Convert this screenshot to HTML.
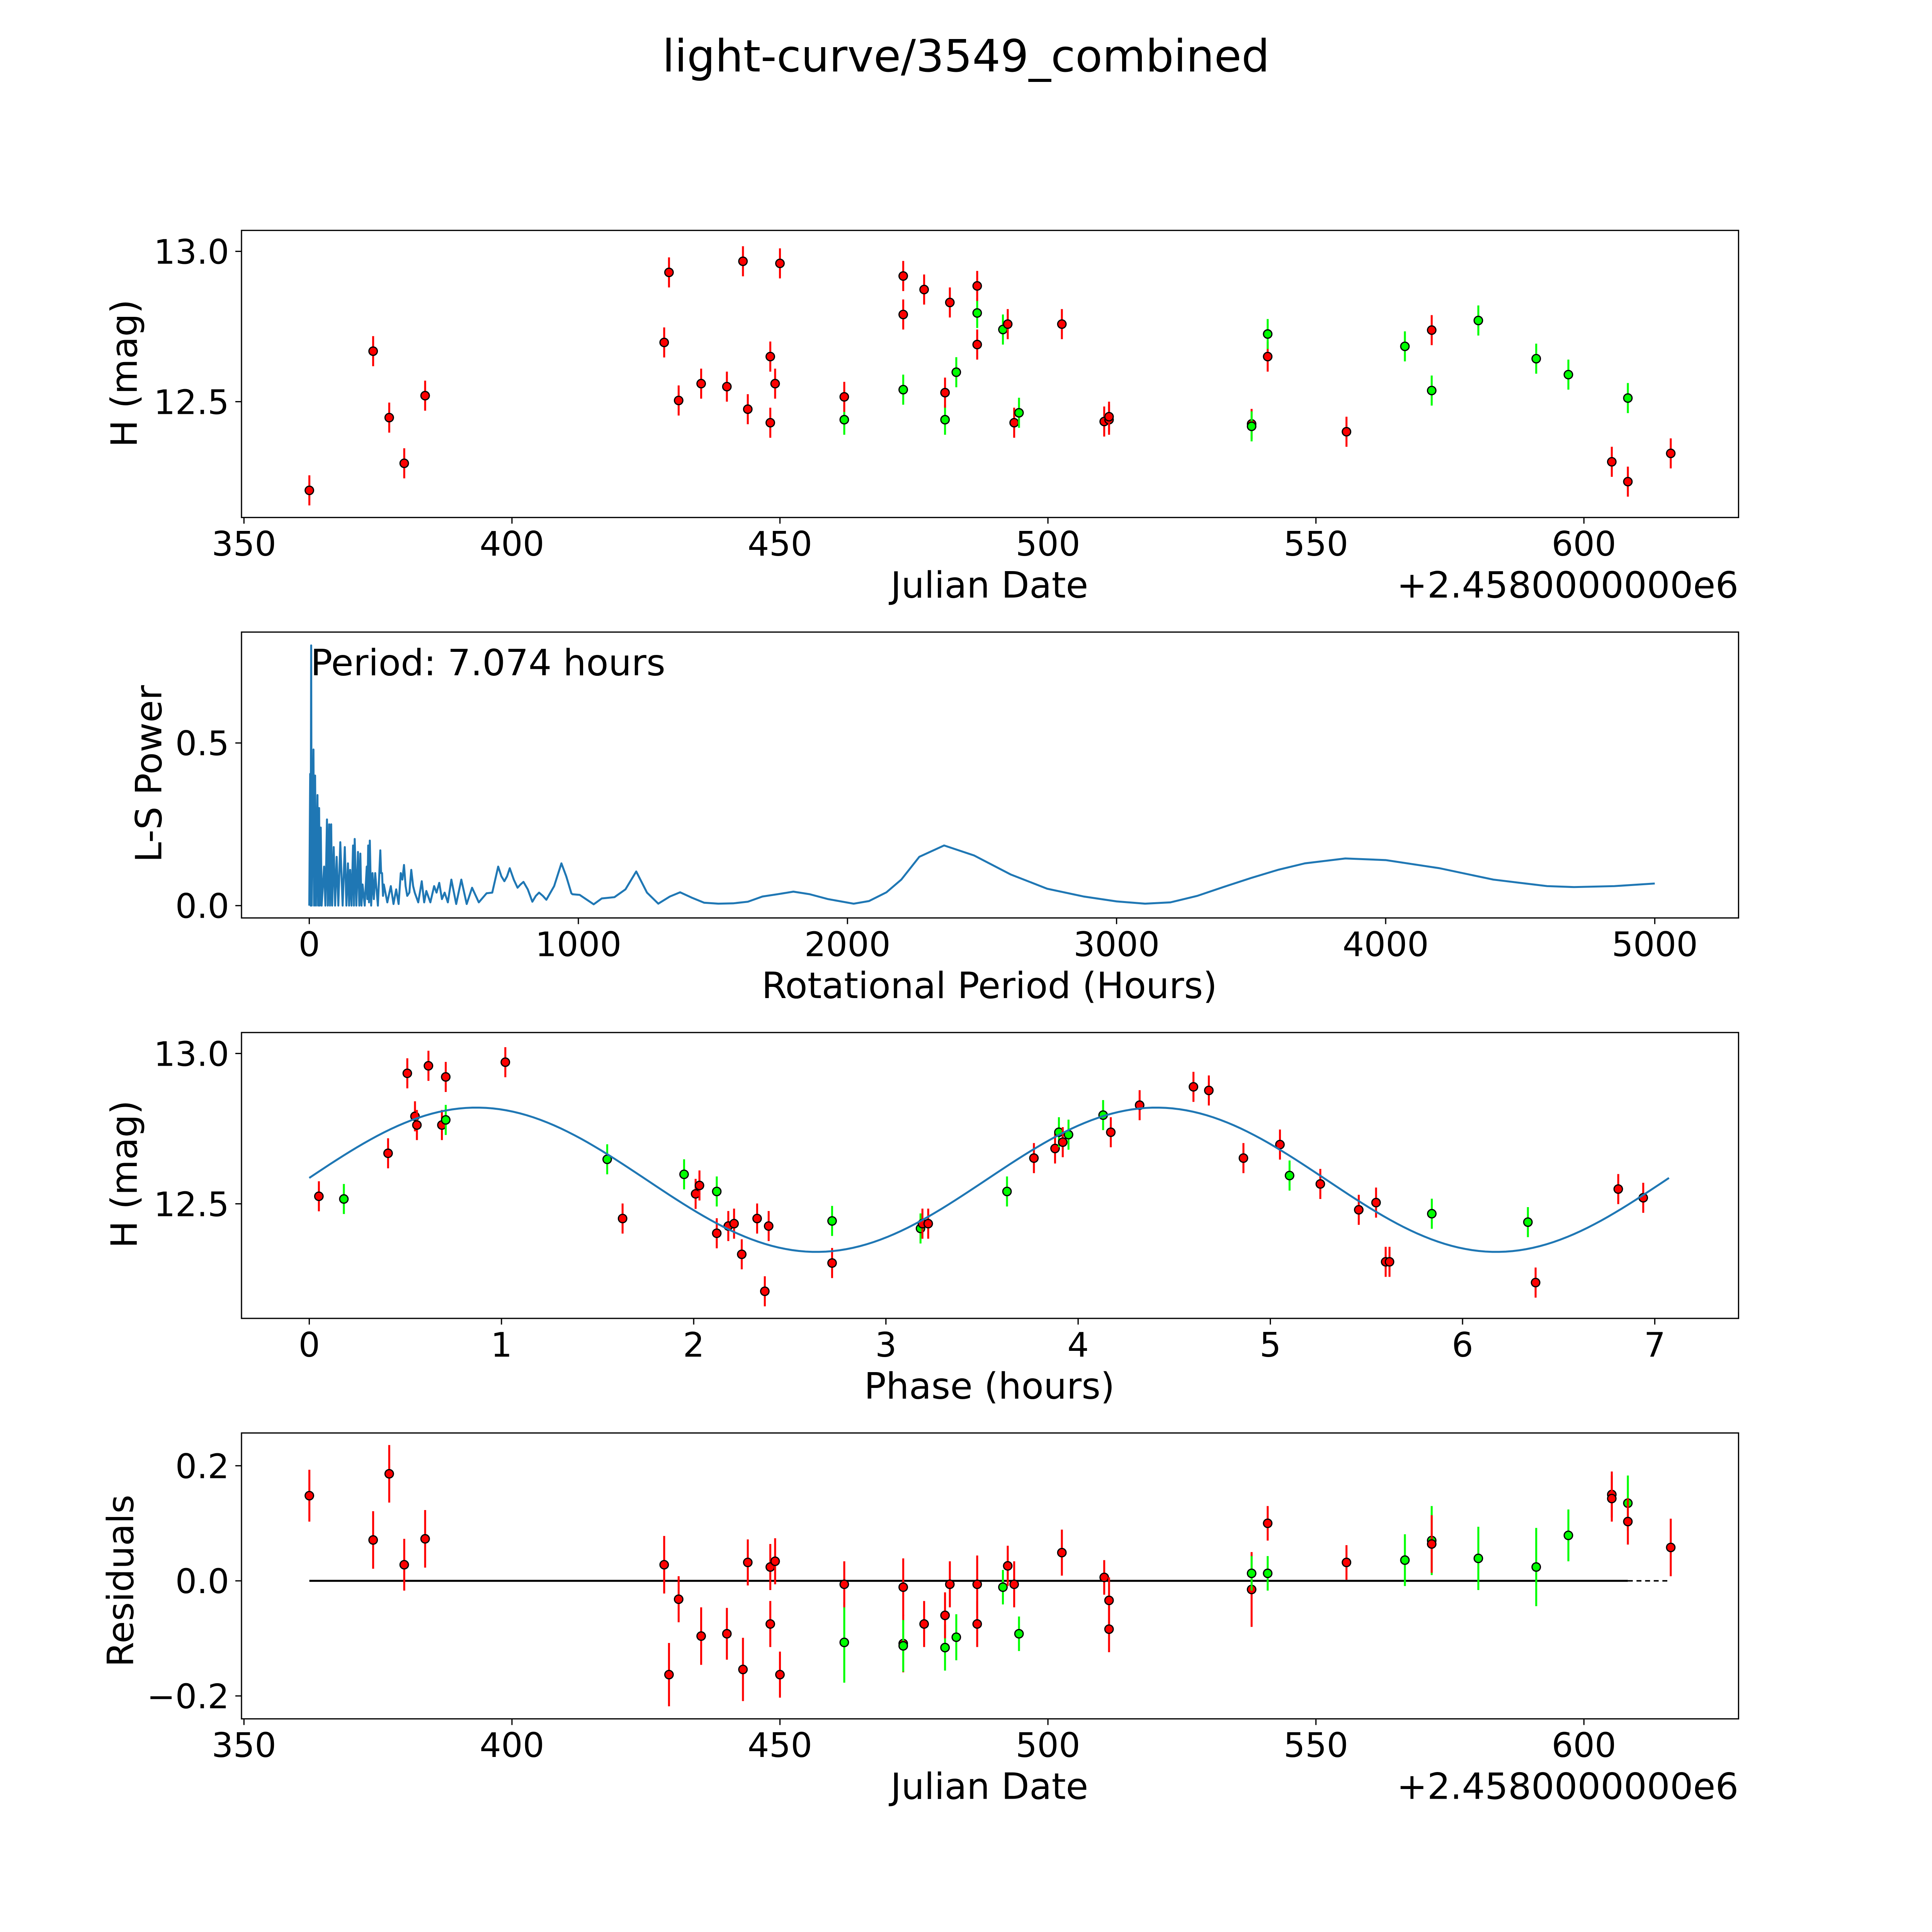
<!DOCTYPE html>
<html><head><meta charset="utf-8"><title>light-curve/3549_combined</title>
<style>
html,body{margin:0;padding:0;background:#fff;overflow:hidden;width:100%;height:100%;}
svg{display:block;width:100vw;height:100vh;}
text{font-family:"DejaVu Sans","Liberation Sans",sans-serif;fill:#000;}
</style></head>
<body>
<svg id="fig" viewBox="0 0 1568 1568" preserveAspectRatio="none" xmlns="http://www.w3.org/2000/svg">
<rect x="0" y="0" width="1568" height="1568" fill="#fff"/>
<text x="784" y="58" font-size="36" text-anchor="middle">light-curve/3549_combined</text>
<g id="p1"></g>
<g id="p2"></g>
<g id="p3"></g>
<g id="p4"></g>
</svg>
<script>
// ---- Panel 1: light curve data (JD - 2458000, H mag, colour) ----
const lcDates = [362.2,374.1,377.1,379.9,383.8,428.4,429.3,431.1,435.3,440.1,443.1,444.0,448.2,448.2,449.1,450.0,462.0,462.0,473.0,473.0,473.0,476.9,480.8,480.8,481.7,482.9,486.8,486.8,486.8,491.6,492.5,493.7,494.6,502.6,510.5,511.4,511.4,538.0,538.0,541.0,541.0,555.7,566.6,571.6,571.6,580.3,591.1,597.1,605.2,608.2,608.2,616.2];
const lcMags = [12.205,12.668,12.447,12.295,12.52,12.697,12.93,12.504,12.56,12.55,12.967,12.475,12.65,12.43,12.56,12.96,12.44,12.516,12.918,12.79,12.54,12.873,12.44,12.53,12.83,12.598,12.795,12.885,12.69,12.74,12.758,12.43,12.463,12.758,12.434,12.44,12.45,12.426,12.418,12.65,12.725,12.40,12.684,12.738,12.537,12.77,12.643,12.59,12.30,12.512,12.234,12.328];
const lcColors = ['r','r','r','r','r','r','r','r','r','r','r','r','r','r','r','r','g','r','r','r','g','r','g','r','r','g','g','r','r','g','r','r','g','r','r','r','r','r','g','r','g','r','g','r','g','g','g','g','r','g','r','r'];
const lcErr = 0.05;

// ---- Panel 2: periodogram (period hours, power) ----
const lsPeriods = [0,3.4,5,7.07,9,15.6,18,21.7,25,30.5,33,36.6,39,42.7,46,55,60,65.8,69,73.9,77,81.4,85,90.9,96,101.7,108,115.3,124,132,138,143.7,148,152,157,162.7,166,168.8,175,181,186,189.8,194,198,206,213.6,216,219,222,225,230,235,240,245,255,264,267,270.5,274,277,290,303,313,323,332,340,346,352,358,364,372,379,386,392,405,418,427,435,450,464,473,483,493,503,515,528,546,565,585,605,630,659,680,702,714,725,735,745,760,774,785,796,812,829,842,854,868,881,910,937,955,974,978,1005,1057,1087,1134,1175,1215,1255,1297,1340,1378,1420,1467,1520,1575,1630,1684,1740,1799,1860,1928,2023,2080,2145,2200,2267,2359,2471,2606,2742,2878,3000,3106,3200,3300,3400,3500,3600,3700,3850,4000,4200,4400,4600,4700,4850,5000];
const lsPowers = [0,0.405,0,0.80,0,0.48,0,0.40,0,0.34,0,0.30,0,0.24,0,0.12,0,0.265,0,0.25,0,0.25,0,0.18,0,0.15,0,0.195,0,0.18,0,0.13,0,0.11,0,0.185,0,0.205,0,0.165,0,0.16,0,0.065,0,0.12,0.02,0.185,0.01,0.2,0,0.10,0.02,0.10,0,0.17,0.1,0.10,0.03,0.065,0.01,0.06,0.005,0.05,0.005,0.10,0.08,0.125,0.06,0.03,0.04,0.11,0.06,0.04,0.01,0.075,0.01,0.045,0.01,0.06,0.04,0.07,0.02,0.04,0.01,0.08,0.005,0.08,0.005,0.055,0.01,0.038,0.04,0.12,0.09,0.075,0.09,0.115,0.08,0.055,0.065,0.073,0.05,0.012,0.03,0.04,0.03,0.018,0.06,0.13,0.09,0.038,0.035,0.033,0.004,0.022,0.026,0.05,0.105,0.04,0.006,0.028,0.041,0.025,0.009,0.006,0.007,0.012,0.028,0.035,0.043,0.035,0.02,0.006,0.014,0.041,0.08,0.15,0.185,0.154,0.096,0.052,0.028,0.013,0.006,0.01,0.03,0.058,0.085,0.11,0.13,0.145,0.14,0.115,0.08,0.06,0.057,0.06,0.068];
const periodLabel = "Period: 7.074 hours";

// ---- Panel 3: phased light curve (phase hours, H mag, colour) ----
const phPhase = [0.05,0.18,0.41,0.51,0.55,0.56,0.62,0.69,0.71,0.71,1.02,1.55,1.63,1.95,2.01,2.03,2.12,2.12,2.18,2.21,2.25,2.33,2.37,2.39,2.72,2.72,3.18,3.19,3.22,3.63,3.77,3.88,3.90,3.92,3.95,4.13,4.17,4.32,4.60,4.68,4.86,5.05,5.10,5.26,5.46,5.55,5.60,5.62,5.84,6.34,6.38,6.81,6.94];
const phMags = [12.525,12.516,12.668,12.934,12.791,12.762,12.959,12.762,12.922,12.779,12.971,12.648,12.451,12.598,12.533,12.561,12.541,12.402,12.426,12.434,12.332,12.451,12.209,12.426,12.443,12.303,12.418,12.434,12.434,12.541,12.652,12.684,12.738,12.705,12.73,12.795,12.738,12.828,12.889,12.877,12.652,12.697,12.594,12.566,12.48,12.504,12.307,12.307,12.467,12.439,12.238,12.549,12.52];
const phColors = ['r','g','r','r','r','r','r','r','r','g','r','g','r','g','r','r','g','r','r','r','r','r','r','r','g','r','g','r','r','g','r','r','g','r','g','g','r','r','r','r','r','r','g','r','r','r','r','r','g','g','r','r','r'];
const fitParams = [12.58, 0.24, 3.537, 0.87]; // mean, amplitude, period(h), peak phase
const fitRange = [0, 7.074];

// ---- Panel 4: residuals ----
const resDates = [362.2,374.1,377.1,379.9,383.8,429.3,428.4,431.1,435.3,440.1,443.1,444.0,448.2,448.2,449.1,450.0,462.0,462.0,473.0,473.0,473.0,476.9,480.8,480.8,481.7,482.9,486.8,486.8,491.6,492.5,493.7,494.6,502.6,510.5,511.4,511.4,538.0,538.0,541.0,541.0,555.7,566.6,571.6,571.6,580.3,591.1,597.1,605.2,605.2,608.2,608.2,616.2];
const resVals = [0.148,0.071,0.186,0.028,0.073,-0.163,0.028,-0.032,-0.096,-0.092,-0.154,0.032,-0.075,0.024,0.034,-0.163,-0.107,-0.006,-0.011,-0.109,-0.113,-0.075,-0.116,-0.06,-0.006,-0.098,-0.075,-0.006,-0.011,0.026,-0.006,-0.092,0.049,0.006,-0.034,-0.084,-0.015,0.013,0.1,0.013,0.032,0.036,0.07,0.064,0.039,0.024,0.079,0.15,0.143,0.135,0.103,0.058];
const resColors = ['r','r','r','r','r','r','r','r','r','r','r','r','r','r','r','r','g','r','r','r','g','r','g','r','r','g','r','r','g','r','r','g','r','r','r','r','r','g','r','g','r','g','g','r','g','g','g','r','r','g','r','r'];
const resErr = [0.045,0.05,0.05,0.045,0.05,0.055,0.05,0.04,0.05,0.045,0.055,0.04,0.04,0.04,0.04,0.04,0.07,0.04,0.05,0.05,0.045,0.04,0.04,0.04,0.04,0.04,0.04,0.05,0.03,0.035,0.04,0.03,0.04,0.03,0.04,0.04,0.065,0.03,0.03,0.03,0.03,0.045,0.06,0.05,0.055,0.068,0.045,0.04,0.04,0.048,0.04,0.05];

const xTicksJD = [350,400,450,500,550,600];
const yTicksH = [12.5,13.0];
const xTicksP = [0,1000,2000,3000,4000,5000];
const yTicksP = [0.0,0.5];
const xTicksPh = [0,1,2,3,4,5,6,7];
const yTicksR = [-0.2,0.0,0.2];

const TICK_FS = 27.5, LABEL_FS = 29.5;
const NS = "http://www.w3.org/2000/svg";
function mk(parent, tag, attrs, txt){
  const e = document.createElementNS(NS, tag);
  for (const k in attrs) e.setAttribute(k, attrs[k]);
  if (txt !== undefined) e.textContent = txt;
  parent.appendChild(e);
  return e;
}
const COL = {r:'#ff0000', g:'#00ff00'};

const xJD = d => 198 + (d - 350) * 4.35;
const y1 = m => 204 + (13 - m) * 244;
const xP = h => 251 + h * 0.2184;
const y2 = p => 735 - p * 264;
const xPh = ph => 251 + ph * 156;
const y3 = m => 855 + (13 - m) * 244;
const y4 = r => 1283 - r * 467;

function frame(g, top, bottom, name){
  const r = mk(g,'rect',{x:196,y:top,width:1215,height:bottom-top,fill:'none',stroke:'#000','stroke-width':1});
  
  
}
function fmt(v, dec){ const s = v.toFixed(dec); return s.replace('-', '\u2212'); }
function xticks(g, ticks, sx, bottom, dec, name){
  ticks.forEach(t => {
    const x = sx(t);
    const l = mk(g,'line',{x1:x,x2:x,y1:bottom,y2:bottom+5,stroke:'#000','stroke-width':1});
    
    
    const tx = mk(g,'text',{x:x,y:bottom+31,'font-size':TICK_FS,'text-anchor':'middle'}, fmt(t,dec));
    
    
  });
}
function yticks(g, ticks, sy, dec, name){
  ticks.forEach(t => {
    const y = sy(t);
    const l = mk(g,'line',{x1:191,x2:196,y1:y,y2:y,stroke:'#000','stroke-width':1});
    
    
    const tx = mk(g,'text',{x:186,y:y+10,'font-size':TICK_FS,'text-anchor':'end'}, fmt(t,dec));
    
    
  });
}
function label(g, txt, x, y, rot, name, anchor, fs){
  const t = mk(g,'text',{x:x,y:y,'font-size':fs||LABEL_FS,'text-anchor':anchor||'middle'}, txt);
  if (rot) t.setAttribute('transform','rotate(-90 '+x+' '+y+')');
  
  
}
function points(g, xs, ys, cols, errs, sx, sy, name){
  xs.forEach((v,i) => {
    const x = sx(v), y = sy(ys[i]);
    const e = Array.isArray(errs) ? errs[i] : errs;
    const c = COL[cols[i]];
    const eb = mk(g,'line',{x1:x,x2:x,y1:sy(ys[i]+e),y2:sy(ys[i]-e),stroke:c,'stroke-width':1.6});
    
    
    const p = mk(g,'circle',{cx:x,cy:y,r:3.4,fill:c,stroke:'#000','stroke-width':1});
    
    
  });
}

const g1 = document.getElementById('p1');
points(g1, lcDates, lcMags, lcColors, lcErr, xJD, y1, 'light-curve');
frame(g1, 187, 420, 'light-curve');
xticks(g1, xTicksJD, xJD, 420, 0, 'light-curve');
yticks(g1, yTicksH, y1, 1, 'light-curve');
label(g1, 'Julian Date', 803, 485, false, 'light-curve-x-axis-title');
label(g1, '+2.4580000000e6', 1411, 485, false, 'light-curve-x-offset-text', 'end');
label(g1, 'H (mag)', 111, 303, true, 'light-curve-y-axis-title');

const g2 = document.getElementById('p2');
let d2 = '';
lsPeriods.forEach((h,i) => { d2 += (i?'L':'M') + xP(h).toFixed(2) + ',' + y2(lsPowers[i]).toFixed(2); });
const pl = mk(g2,'path',{d:d2,fill:'none',stroke:'#1f77b4','stroke-width':1.6,'stroke-linejoin':'round'});


frame(g2, 513, 745, 'periodogram');
xticks(g2, xTicksP, xP, 745, 0, 'periodogram');
yticks(g2, yTicksP, y2, 1, 'periodogram');
label(g2, 'Rotational Period (Hours)', 803, 810, false, 'periodogram-x-axis-title');
label(g2, 'L-S Power', 131, 628, true, 'periodogram-y-axis-title');
label(g2, periodLabel, 252, 548, false, 'period-annotation', 'start');

const g3 = document.getElementById('p3');
points(g3, phPhase, phMags, phColors, lcErr, xPh, y3, 'phase');
let d3 = '';
const N = 200;
for (let k=0;k<=N;k++){
  const ph = fitRange[0] + (fitRange[1]-fitRange[0])*k/N;
  const m = fitParams[0] + fitParams[1]*Math.cos(2*Math.PI*(ph-fitParams[3])/fitParams[2]);
  d3 += (k?'L':'M') + xPh(ph).toFixed(2) + ',' + y3(m).toFixed(2);
}
const fl = mk(g3,'path',{d:d3,fill:'none',stroke:'#1f77b4','stroke-width':1.6});


frame(g3, 838, 1070, 'phase');
xticks(g3, xTicksPh, xPh, 1070, 0, 'phase');
yticks(g3, yTicksH, y3, 1, 'phase');
label(g3, 'Phase (hours)', 803, 1135, false, 'phase-x-axis-title');
label(g3, 'H (mag)', 111, 953, true, 'phase-y-axis-title');

const g4 = document.getElementById('p4');
const z1 = mk(g4,'line',{x1:xJD(362.2),x2:xJD(608.2),y1:y4(0),y2:y4(0),stroke:'#000','stroke-width':1.6});


const z2 = mk(g4,'line',{x1:xJD(608.2),x2:xJD(616.2),y1:y4(0),y2:y4(0),stroke:'#000','stroke-width':1.2,'stroke-dasharray':'4,3'});


points(g4, resDates, resVals, resColors, resErr, xJD, y4, 'residual');
frame(g4, 1163, 1395, 'residuals');
xticks(g4, xTicksJD, xJD, 1395, 0, 'residuals');
yticks(g4, yTicksR, y4, 1, 'residuals');
label(g4, 'Julian Date', 803, 1460, false, 'residuals-x-axis-title');
label(g4, '+2.4580000000e6', 1411, 1460, false, 'residuals-x-offset-text', 'end');
label(g4, 'Residuals', 108, 1283, true, 'residuals-y-axis-title');
</script>
</body></html>
